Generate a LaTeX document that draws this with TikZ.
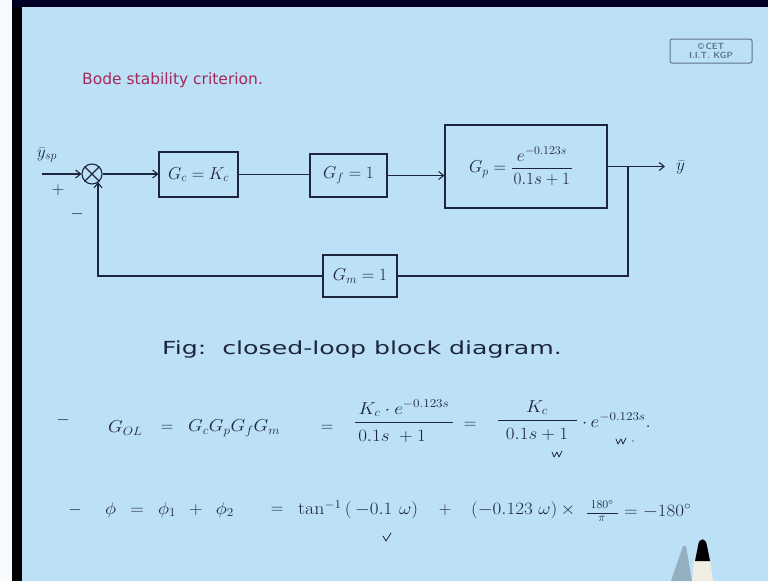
\documentclass[tikz,border=0pt]{standalone}
\usepackage{fontspec}
\usetikzlibrary{calc,arrows.meta}
\newfontfamily\handfont{DejaVu Sans}
\definecolor{bg}{RGB}{188,224,246}
\definecolor{ink}{RGB}{30,38,62}
\definecolor{titlec}{RGB}{165,40,90}
\definecolor{logoc}{RGB}{95,115,145}
\definecolor{penbody}{RGB}{240,237,226}
\newcommand{\hw}[1]{\scalebox{1.1}[1]{#1}}
\newcommand{\hwcap}[1]{\scalebox{1.4}[1]{#1}}
\tikzset{
  blk/.style={draw=ink, line width=1.1pt, inner sep=0pt, text=ink, font=\fontsize{18.5}{22}\selectfont},
  wire/.style={draw=ink, line width=1.1pt},
  arr/.style={wire, -{Straight Barb[length=5pt,width=8pt]}},
  txt/.style={text=ink, inner sep=0pt, font=\fontsize{18}{21}\selectfont},
  eq/.style={text=ink, inner sep=0pt, font=\fontsize{18}{21}\selectfont},
  small/.style={text=ink, inner sep=0pt, font=\fontsize{13}{15}\selectfont},
  fbar/.style={draw=ink, line width=0.9pt},
  tick/.style={draw=ink, line width=0.8pt, line cap=round, line join=round},
}
\begin{document}
\begin{tikzpicture}[x=1pt,y=-1pt]
\useasboundingbox (0,0) rectangle (768,581);
\fill[bg] (0,0) rectangle (768,581);
\fill[white!88!bg] (0,0) rectangle (12,581);
\fill[black] (12,0) rectangle (22,581);
\fill[black!85!blue] (12,0) rectangle (768,7);

% logo
\node[draw=logoc, rounded corners=2pt, line width=1pt, minimum width=82pt, minimum height=24pt,
      inner sep=0pt, align=center, text=logoc, font=\sffamily\bfseries\fontsize{9}{9.5}\selectfont]
      (logo) at (711,51) {\textcopyright\,CET\\I.I.T. KGP};

% title
\node[text=titlec, inner sep=0pt, anchor=west, font=\handfont\fontsize{15.5}{18}\selectfont]
      (title) at (82,80) {Bode stability criterion.};

% blocks
\node[draw=ink, line width=1.1pt, circle, minimum size=20pt, inner sep=0pt] (sum) at (92,174) {};
\draw[wire] (sum.north west) -- (sum.south east) (sum.north east) -- (sum.south west);
\node[blk, minimum width=79pt, minimum height=45pt] (gc) at (198.5,174.5) {$G_c = K_c$};
\node[blk, minimum width=77pt, minimum height=43pt] (gf) at (348.5,175.5) {$G_f = 1$};
\node[blk, minimum width=162pt, minimum height=83pt] (gp) at (526,166.5) {$G_p = \displaystyle\frac{\;e^{-0.123s}\;}{0.1s+1}$\hspace*{10pt}};
\node[blk, minimum width=74pt, minimum height=42pt] (gm) at (360,276) {$G_m = 1$};

\coordinate (in) at (42,174);
\coordinate (br) at (628,166.5);
\coordinate (out) at (665,166.5);
\coordinate (fbend) at ($(sum.center)+(6,8)$);

\draw[arr] (in) -- (sum.west);
\draw[arr] (sum.east) -- (sum.east -| gc.west);
\draw[wire] (gc.east) -- (gc.east -| gf.west);
\draw[arr] (gf.east) -- (gf.east -| gp.west);
\draw[arr] (gp.east) -- (out);
\draw[wire] (br) |- (gm.east);
\draw[arr] (gm.west) -| (fbend);

\node[txt] (ysp) at (47,155) {$\bar{y}_{sp}$};
\node[txt] (plus) at (58,190) {$+$};
\node[txt] (minus) at (77,214) {$-$};
\node[txt, anchor=west] (ybar) at (676,167) {$\bar{y}$};

% caption
\node[text=ink, inner sep=0pt, anchor=west, font=\handfont\fontsize{18}{20}\selectfont]
      (cap) at (162,350) {\hwcap{Fig:\ \ closed-loop block diagram.}};

% open-loop transfer function
\node[eq] (d1) at (63,420) {$-$};
\node[eq, anchor=west] (gol) at (108,428) {\hw{$G_{OL}$}};
\node[eq] (e1) at (167,428) {$=$};
\node[eq, anchor=west] (prod) at (188,428) {\hw{$G_cG_pG_fG_m$}};
\node[eq] (e2) at (327,428) {$=$};
\coordinate (f1a) at (355,422);
\coordinate (f1b) at (453,422);
\draw[fbar] (f1a) -- (f1b);
\node[eq, anchor=south] (n1) at (404,417) {\hw{$K_c\cdot e^{-0.123s}$}};
\node[eq, anchor=north] (den1) at (392,430) {\hw{$0.1s\;+1$}};
\node[eq] (e3) at (470,425) {$=$};
\coordinate (f2a) at (498,420);
\coordinate (f2b) at (577,420);
\draw[fbar] (f2a) -- (f2b);
\node[eq, anchor=south] (n2) at (537,415) {\hw{$K_c$}};
\node[eq, anchor=north] (den2) at (537,428) {\hw{$0.1s+1$}};
\node[eq, anchor=west] (ex) at (582,420) {\hw{$\cdot\, e^{-0.123s}.$}};
\draw[tick] (552,452) -- (554,457) -- (557,452) -- (559,457) -- (562,451);
\draw[tick] (616,439) -- (618,444) -- (621,439) -- (623,444) -- (626,438);
\node[small] (dot) at (633,442) {$\cdot$};

% phase equation
\node[eq] (d2) at (75,510) {$-$};
\node[eq, anchor=west] (phi) at (105,510) {\hw{$\phi \hspace{8pt}=\hspace{8pt} \phi_1 \hspace{8pt}+\hspace{8pt} \phi_2$}};
\node[eq] (e4) at (277,510) {$=$};
\node[eq, anchor=west] (atan) at (298,510) {\hw{$\tan^{-1}\hspace{3pt}(\hspace{3pt}{-0.1}\hspace{6pt}\omega)$}};
\node[eq] (pl) at (445,510) {$+$};
\node[eq, anchor=west] (lin) at (471,510) {\hw{$({-0.123}\hspace{5pt}\omega)\hspace{3pt}\times$}};
\coordinate (f3a) at (587,513);
\coordinate (f3b) at (618,513);
\draw[fbar] (f3a) -- (f3b);
\node[small, anchor=south] (n3) at (602,509) {$180^\circ$};
\node[small, anchor=north] (den3) at (602,516) {$\pi$};
\node[eq, anchor=west] (res) at (624,511) {\hw{$= -180^\circ$}};
\draw[tick] (383,536) -- (386,541) -- (391,533);

% pen pointer
\fill[black!22!bg] (683,546) -- (686,546) -- (692,581) -- (671,581) -- cycle;
\fill[penbody] (694,560) -- (710,560) -- (713,581) -- (692,581) -- cycle;
\fill[black] (695,561) -- (698,546) .. controls (699,537) and (706,537) .. (707,546) -- (710,561) -- cycle;
\end{tikzpicture}
\end{document}
